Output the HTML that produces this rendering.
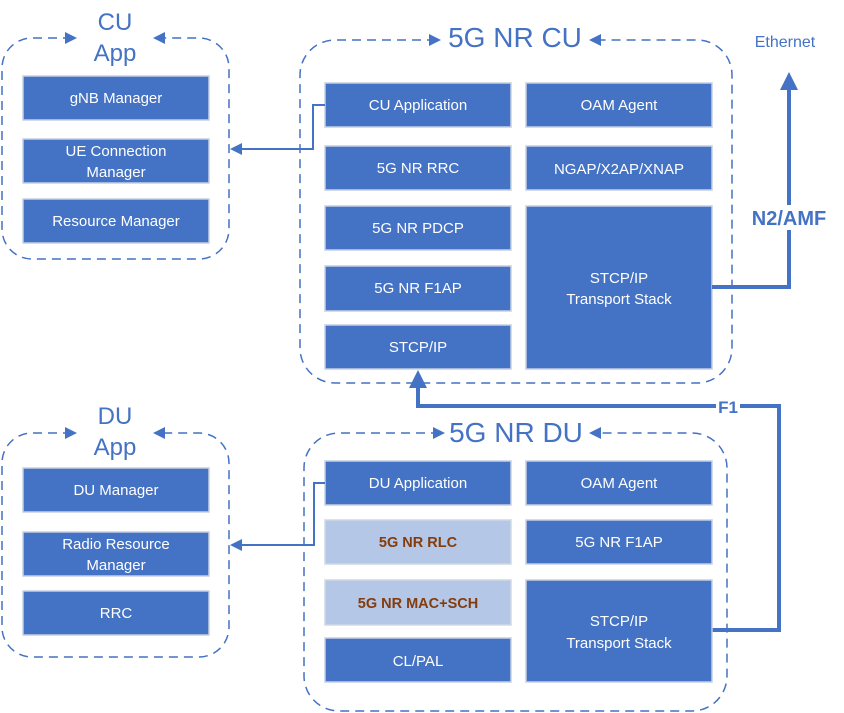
<!DOCTYPE html>
<html><head><meta charset="utf-8"><style>
html,body{margin:0;padding:0;background:#fff;width:844px;height:713px;overflow:hidden}
svg{display:block}
text{font-family:"Liberation Sans",sans-serif}
.b{fill:#4472C4;stroke:#c5d0e3;stroke-width:1.5}
.l{fill:#B4C7E7;stroke:#cfd8e6;stroke-width:1.5}
.t{fill:#fff;font-size:15px;text-anchor:middle}
.o{fill:#843C0C;font-size:14.5px;font-weight:bold;text-anchor:middle}
.c{fill:none;stroke:#4472C4;stroke-width:1.5;stroke-dasharray:9 6}
.h{fill:#4472C4;font-size:24px;text-anchor:middle}
</style></head><body>
<svg width="844" height="713" viewBox="0 0 844 713">
<path class="c" d="M72 38 H32 A30 30 0 0 0 2 68 V229 A30 30 0 0 0 32 259 H199 A30 30 0 0 0 229 229 V68 A30 30 0 0 0 199 38 H158"/>
<polygon points="77,38 65,32 65,44" fill="#4472C4"/>
<polygon points="153,38 165,32 165,44" fill="#4472C4"/>
<text class="h" x="115" y="30">CU</text>
<text class="h" x="115" y="61">App</text>
<rect class="b" x="23" y="76" width="186" height="44"/><text class="t" x="116" y="103">gNB Manager</text>
<rect class="b" x="23" y="139" width="186" height="44"/><text class="t" x="116" y="156">UE Connection</text><text class="t" x="116" y="177">Manager</text>
<rect class="b" x="23" y="199" width="186" height="44"/><text class="t" x="116" y="226">Resource Manager</text>

<path class="c" d="M436 40 H335 A35 35 0 0 0 300 75 V348 A35 35 0 0 0 335 383 H697 A35 35 0 0 0 732 348 V75 A35 35 0 0 0 697 40 H594"/>
<polygon points="441,40 429,34 429,46" fill="#4472C4"/>
<polygon points="589,40 601,34 601,46" fill="#4472C4"/>
<text x="515" y="47" fill="#4472C4" font-size="28" text-anchor="middle">5G NR CU</text>
<rect class="b" x="325" y="83" width="186" height="44"/><text class="t" x="418" y="110">CU Application</text>
<rect class="b" x="325" y="146" width="186" height="44"/><text class="t" x="418" y="173">5G NR RRC</text>
<rect class="b" x="325" y="206" width="186" height="44"/><text class="t" x="418" y="233">5G NR PDCP</text>
<rect class="b" x="325" y="266" width="186" height="45"/><text class="t" x="418" y="293">5G NR F1AP</text>
<rect class="b" x="325" y="325" width="186" height="44"/><text class="t" x="418" y="352">STCP/IP</text>
<rect class="b" x="526" y="83" width="186" height="44"/><text class="t" x="619" y="110">OAM Agent</text>
<rect class="b" x="526" y="146" width="186" height="44"/><text class="t" x="619" y="174" font-size="16">NGAP/X2AP/XNAP</text>
<rect class="b" x="526" y="206" width="186" height="163"/><text class="t" x="619" y="283">STCP/IP</text><text class="t" x="619" y="304">Transport Stack</text>

<polyline points="325,105 313,105 313,149 240,149" fill="none" stroke="#4472C4" stroke-width="2"/>
<polygon points="230,149 242,143 242,155" fill="#4472C4"/>

<text x="785" y="47" fill="#4472C4" font-size="16" text-anchor="middle">Ethernet</text>
<polyline points="712,287 789,287 789,85" fill="none" stroke="#4472C4" stroke-width="4"/>
<polygon points="789,72 780,90 798,90" fill="#4472C4"/>
<rect x="743" y="205" width="94" height="25" fill="#fff"/>
<text x="789" y="225" fill="#4472C4" font-size="20" font-weight="bold" text-anchor="middle">N2/AMF</text>

<polyline points="712,630 779,630 779,406 418,406 418,385" fill="none" stroke="#4472C4" stroke-width="4"/>
<polygon points="418,370 409,388 427,388" fill="#4472C4"/>
<rect x="716" y="396" width="24" height="20" fill="#fff"/>
<text x="728" y="413" fill="#4472C4" font-size="17" font-weight="bold" text-anchor="middle">F1</text>

<path class="c" d="M72 433 H32 A30 30 0 0 0 2 463 V627 A30 30 0 0 0 32 657 H199 A30 30 0 0 0 229 627 V463 A30 30 0 0 0 199 433 H158"/>
<polygon points="77,433 65,427 65,439" fill="#4472C4"/>
<polygon points="153,433 165,427 165,439" fill="#4472C4"/>
<text class="h" x="115" y="424">DU</text>
<text class="h" x="115" y="455">App</text>
<rect class="b" x="23" y="468" width="186" height="44"/><text class="t" x="116" y="495">DU Manager</text>
<rect class="b" x="23" y="532" width="186" height="44"/><text class="t" x="116" y="549">Radio Resource</text><text class="t" x="116" y="570">Manager</text>
<rect class="b" x="23" y="591" width="186" height="44"/><text class="t" x="116" y="618">RRC</text>

<path class="c" d="M440 433 H339 A35 35 0 0 0 304 468 V676 A35 35 0 0 0 339 711 H692 A35 35 0 0 0 727 676 V468 A35 35 0 0 0 692 433 H594"/>
<polygon points="445,433 433,427 433,439" fill="#4472C4"/>
<polygon points="589,433 601,427 601,439" fill="#4472C4"/>
<text x="516" y="442" fill="#4472C4" font-size="28" text-anchor="middle">5G NR DU</text>
<rect class="b" x="325" y="461" width="186" height="44"/><text class="t" x="418" y="488">DU Application</text>
<rect class="l" x="325" y="520" width="186" height="44"/><text class="o" x="418" y="547">5G NR RLC</text>
<rect class="l" x="325" y="580" width="186" height="45"/><text class="o" x="418" y="608">5G NR MAC+SCH</text>
<rect class="b" x="325" y="638" width="186" height="44"/><text class="t" x="418" y="666">CL/PAL</text>
<rect class="b" x="526" y="461" width="186" height="44"/><text class="t" x="619" y="488">OAM Agent</text>
<rect class="b" x="526" y="520" width="186" height="44"/><text class="t" x="619" y="547">5G NR F1AP</text>
<rect class="b" x="526" y="580" width="186" height="102"/><text class="t" x="619" y="626">STCP/IP</text><text class="t" x="619" y="648">Transport Stack</text>

<polyline points="325,483 314,483 314,545 240,545" fill="none" stroke="#4472C4" stroke-width="2"/>
<polygon points="230,545 242,539 242,551" fill="#4472C4"/>
</svg>
</body></html>
